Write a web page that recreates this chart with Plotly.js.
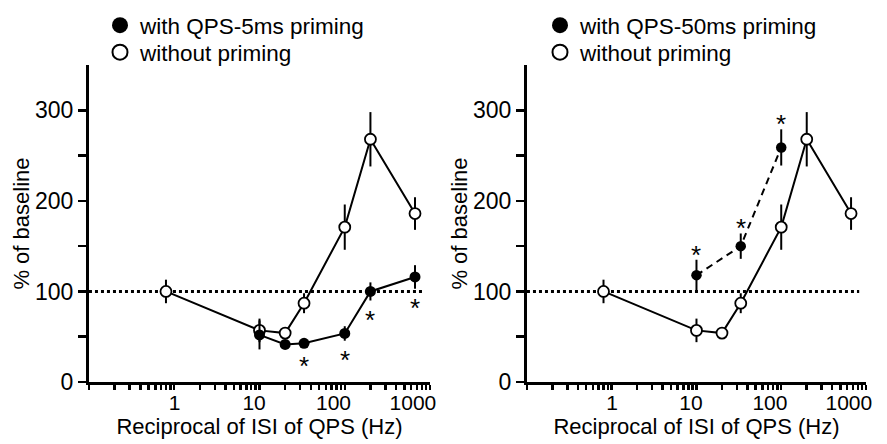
<!DOCTYPE html>
<html>
<head>
<meta charset="utf-8">
<script src="https://cdn.plot.ly/plotly-3.0.1.min.js"></script>
<style>html,body{margin:0;padding:0;background:#fff}#chart{width:887px;height:444px}</style>
</head>
<body>
<div id="chart"></div>
<script>
// ---- data ----
const xHz = [0.8, 10, 20, 33.3, 100, 200, 666.7];           // reciprocal of ISI (Hz)
const withoutMean = [100, 57, 54, 87, 171, 268, 186];       // without priming
const withoutErr  = [13, 13, 4, 11, 25, 30, 18];

const qps5X    = [10, 20, 33.3, 100, 200, 666.7];
const qps5Mean = [52, 41.5, 42.7, 53.6, 100, 116];
const qps5Err  = [16, 5, 4, 8, 10, 13];
const qps5Sig  = [false, false, true, true, true, true];

const qps50X    = [10, 33.3, 100];
const qps50Mean = [118, 150, 259];
const qps50Err  = [17, 14, 20];
const qps50Sig  = [true, true, true];

const xTickMajors = [1, 10, 100, 1000];
const xTickLabels = ['1', '10', '100', '1000'];
const yTicks = [0, 50, 100, 150, 200, 250, 300];
const yTickLabels = ['0', '', '100', '', '200', '', '300'];
const legendLeft  = ['with QPS-5ms priming', 'without priming'];
const legendRight = ['with QPS-50ms priming', 'without priming'];

// ---- build traces ----
const FONT = 'Liberation Sans, Arial, Helvetica, sans-serif';
const err = a => ({type: 'data', array: a, visible: true, color: '#000', thickness: 2, width: 0});

function openTraces(xa, ya) {
  return [
    {x: xHz, y: withoutMean, xaxis: xa, yaxis: ya, mode: 'lines', showlegend: false,
     line: {color: '#000', width: 2}},
    {x: xHz, y: withoutMean, xaxis: xa, yaxis: ya, mode: 'markers', showlegend: false,
     error_y: err(withoutErr),
     marker: {symbol: 'circle', size: 11, color: '#fff', line: {color: '#000', width: 1.8}}}
  ];
}
function filledTraces(xs, ys, es, xa, ya, dash, size) {
  return [
    {x: xs, y: ys, xaxis: xa, yaxis: ya, mode: 'lines', showlegend: false,
     line: {color: '#000', width: 2, dash: dash}},
    {x: xs, y: ys, xaxis: xa, yaxis: ya, mode: 'markers', showlegend: false,
     error_y: err(es),
     marker: {symbol: 'circle', size: size, color: '#000', line: {color: '#000', width: 0}}}
  ];
}
function legendTraces(names, xa, ya, legA, legB) {
  return [
    {x: [null], y: [null], xaxis: xa, yaxis: ya, mode: 'markers', name: names[0], legend: legA,
     marker: {symbol: 'circle', size: 16, color: '#000'}},
    {x: [null], y: [null], xaxis: xa, yaxis: ya, mode: 'markers', name: names[1], legend: legB,
     marker: {symbol: 'circle', size: 15, color: '#fff', line: {color: '#000', width: 2}}}
  ];
}

const traces = [].concat(
  openTraces('x', 'y'),
  filledTraces(qps5X, qps5Mean, qps5Err, 'x', 'y', 'solid', 11),
  openTraces('x2', 'y2'),
  filledTraces(qps50X, qps50Mean, qps50Err, 'x2', 'y2', '7px,5px', 10.5),
  legendTraces(legendLeft, 'x', 'y', 'legend', 'legend2'),
  legendTraces(legendRight, 'x2', 'y2', 'legend3', 'legend4')
);

// significance asterisks
const STAR = {family: FONT, size: 26, color: '#000'};
const annotations = [];
qps5X.forEach((xv, i) => {
  if (qps5Sig[i]) annotations.push({xref: 'x', yref: 'y', x: Math.log10(xv), y: qps5Mean[i] - qps5Err[i],
    text: '*', showarrow: false, yanchor: 'middle', yshift: -19, font: STAR});
});
qps50X.forEach((xv, i) => {
  if (qps50Sig[i]) annotations.push({xref: 'x2', yref: 'y2', x: Math.log10(xv), y: qps50Mean[i] + qps50Err[i],
    text: '*', showarrow: false, yanchor: 'middle', yshift: 5, font: STAR});
});

// x tick values: 0.1 .. 1000 with minor ticks at 2..9
const xTickVals = [], xTickText = [];
[0.1, 1, 10, 100].forEach(d => {
  for (let k = 1; k <= 9; k++) {
    const v = d * k;
    xTickVals.push(v);
    const idx = xTickMajors.indexOf(Math.round(v * 10) / 10);
    xTickText.push(idx >= 0 ? xTickLabels[idx] : '');
  }
});
xTickVals.push(1000); xTickText.push('1000');

function xAxis(domain) {
  return {
    type: 'log', range: [-1, 3], domain: domain, showline: true, linecolor: '#000', linewidth: 3,
    ticks: 'outside', ticklen: 5, tickwidth: 2.5, tickcolor: '#000',
    tickmode: 'array', tickvals: xTickVals, ticktext: xTickText,
    ticklabelposition: 'outside left', ticklabelshift: 9,
    tickfont: {family: 'Liberation Sans Narrow, ' + FONT, size: 21, color: '#000'},
    showgrid: false, zeroline: false, fixedrange: true,
    title: {text: 'Reciprocal of ISI of QPS (Hz)', font: {family: FONT, size: 22, color: '#000'}, standoff: 0}
  };
}
function yAxis(anchor) {
  return {
    range: [0, 350], domain: [0.1396, 0.8536], anchor: anchor, showline: true, linecolor: '#000', linewidth: 3,
    ticks: 'outside', ticklen: 8, tickwidth: 2.5, tickcolor: '#000',
    tickmode: 'array', tickvals: yTicks, ticktext: yTickLabels,
    tickfont: {family: FONT, size: 23, color: '#000'},
    showgrid: false, zeroline: false, fixedrange: true,
    title: {text: '% of baseline', font: {family: FONT, size: 22, color: '#000'}, standoff: 0}
  };
}

const dotted = (xr, yr) => ({type: 'line', xref: xr + ' domain', yref: yr, x0: 0, x1: 0.98, y0: 100, y1: 100,
  line: {color: '#000', width: 3, dash: '3px,3px'}, layer: 'below'});

const legendBase = {font: {family: FONT, size: 22.5, color: '#000'}, bgcolor: 'rgba(0,0,0,0)',
  xanchor: 'left', yanchor: 'top', traceorder: 'normal', itemclick: false, itemdoubleclick: false,
  tracegroupgap: 0};
const leg = (xpx, ytop) => Object.assign({x: xpx / 887, y: 1 - ytop / 444}, legendBase);

const layout = {
  width: 887, height: 444, margin: {l: 0, r: 0, t: 0, b: 0},
  paper_bgcolor: '#fff', plot_bgcolor: '#fff', showlegend: true,
  font: {family: FONT, color: '#000'},
  xaxis: Object.assign(xAxis([0.1003, 0.4848]), {anchor: 'y'}),
  yaxis: yAxis('x'),
  xaxis2: Object.assign(xAxis([0.5941, 0.9763]), {anchor: 'y2'}),
  yaxis2: yAxis('x2'),
  legend: leg(100, 4),
  legend2: leg(100, 31),
  legend3: leg(540, 4),
  legend4: leg(540, 31),
  shapes: [dotted('x', 'y'), dotted('x2', 'y2')],
  annotations: annotations
};

Plotly.newPlot('chart', traces, layout, {staticPlot: true, displayModeBar: false});
</script>
</body>
</html>
